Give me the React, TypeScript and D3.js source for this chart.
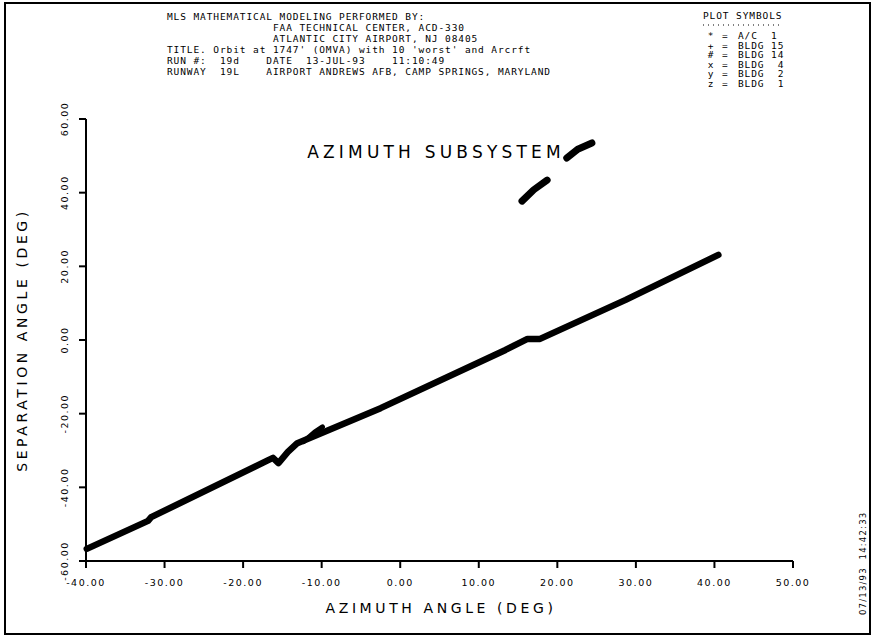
import React from "react";
import * as d3 from "d3";

// ---- data ----
const xTicks = [-40, -30, -20, -10, 0, 10, 20, 30, 40, 50];
const yTicks = [-60, -40, -20, 0, 20, 40, 60];

// A/C 1 main trace: [azimuth, separation]
const mainTrace: [number, number][] = [
  [-39.9, -56.7],
  [-32.1, -49.1],
  [-31.7, -48.1],
  [-16.8, -32.6],
  [-16.2, -32.0],
  [-15.5, -33.4],
  [-14.3, -30.4],
  [-13.1, -28.0],
  [-2.5, -18.5],
  [13.4, -2.7],
  [16.2, 0.3],
  [17.8, 0.3],
  [28.7, 10.9],
  [40.5, 23.1],
];
const spurTrace: [number, number][] = [
  [-12.3, -27.6],
  [-10.9, -25.0],
  [-9.9, -23.6],
];
const blobA: [number, number][] = [
  [15.5, 37.7],
  [17.0, 40.8],
  [18.7, 43.4],
];
const blobB: [number, number][] = [
  [21.2, 49.4],
  [22.6, 51.8],
  [24.4, 53.5],
];

const headerLines = [
  "MLS MATHEMATICAL MODELING PERFORMED BY:",
  "                FAA TECHNICAL CENTER, ACD-330",
  "                ATLANTIC CITY AIRPORT, NJ 08405",
  "TITLE. Orbit at 1747' (OMVA) with 10 'worst' and Arcrft",
  "RUN #:  19d    DATE  13-JUL-93    11:10:49",
  "RUNWAY  19L    AIRPORT ANDREWS AFB, CAMP SPRINGS, MARYLAND",
];

const symbolChars = ["*", "+", "#", "x", "y", "z"];
const symbolNames = ["A/C  1", "BLDG 15", "BLDG 14", "BLDG  4", "BLDG  2", "BLDG  1"];

const plotTitle = "AZIMUTH SUBSYSTEM";
const xTitle = "AZIMUTH ANGLE (DEG)";
const yTitle = "SEPARATION ANGLE (DEG)";
const stamp = "07/13/93  14:42:33";

export default function App() {
  const W = 876, H = 642;
  const x = d3.scaleLinear().domain([-40, 50]).range([86, 793]);
  const y = d3.scaleLinear().domain([-60, 60]).range([561, 119]);
  const line = d3
    .line<[number, number]>()
    .x((d) => x(d[0]))
    .y((d) => y(d[1]))
    .curve(d3.curveLinear);
  const font = "'DejaVu Sans', sans-serif";
  const mono = "'DejaVu Sans Mono', monospace";
  const fmt = (v: number) => v.toFixed(2);

  return (
    <svg
      width={W}
      height={H}
      style={{ position: "absolute", left: 0, top: 0, background: "#fff" }}
      fontFamily={font}
    >
      <rect x={0} y={0} width={W} height={H} fill="#fff" />
      {/* frame */}
      <rect x={5} y={3} width={865} height={631} fill="none" stroke="#000" strokeWidth={2} />

      {/* header */}
      <g fontSize={9.5} fontFamily={mono} letterSpacing={0.9} fill="#000">
        {headerLines.map((t, i) => (
          <text key={i} x={167} y={20 + i * 11} xmlSpace="preserve" style={{ whiteSpace: "pre" }}>
            {t}
          </text>
        ))}
      </g>

      {/* plot symbols */}
      <g fontSize={9.5} fontFamily={mono} letterSpacing={0.9} fill="#000">
        <text x={703} y={19}>PLOT SYMBOLS</text>
        <line x1={703} x2={783} y1={25} y2={25} stroke="#000" strokeWidth={1} strokeDasharray="1 4" />
        {symbolChars.map((s, i) => (
          <g key={i}>
            <text x={711} y={39 + i * 9.6} textAnchor="middle">{s}</text>
            <text x={722} y={39 + i * 9.6}>=</text>
            <text x={738} y={39 + i * 9.6} xmlSpace="preserve" style={{ whiteSpace: "pre" }}>{symbolNames[i]}</text>
          </g>
        ))}
      </g>

      {/* axes */}
      <g stroke="#000" strokeWidth={2}>
        <line x1={x(-40)} x2={x(-40)} y1={y(60)} y2={y(-60) + 4} />
        <line x1={x(-40)} x2={x(50)} y1={y(-60)} y2={y(-60)} />
        {yTicks.map((v) => (
          <line key={"yt" + v} x1={x(-40) - 7} x2={x(-40)} y1={y(v)} y2={y(v)} />
        ))}
        {xTicks.map((v) => (
          <line key={"xt" + v} x1={x(v)} x2={x(v)} y1={y(-60)} y2={y(-60) + 7} />
        ))}
      </g>

      {/* tick labels */}
      <g fontSize={9.5} letterSpacing={1.5} fill="#000">
        {xTicks.map((v) => (
          <text key={"xl" + v} x={x(v)} y={y(-60) + 25} textAnchor="middle">
            {fmt(v)}
          </text>
        ))}
        {yTicks.map((v) => (
          <text
            key={"yl" + v}
            transform={`translate(${x(-40) - 18},${y(v)}) rotate(-90)`}
            textAnchor="middle"
          >
            {fmt(v)}
          </text>
        ))}
      </g>

      {/* titles */}
      <text x={436} y={158} fontSize={17} letterSpacing={4.2} textAnchor="middle" fill="#000">
        {plotTitle}
      </text>
      <text x={441} y={613} fontSize={14} letterSpacing={3.6} textAnchor="middle" fill="#000">
        {xTitle}
      </text>
      <text
        transform={`translate(27,340) rotate(-90)`}
        fontSize={14}
        letterSpacing={3.6}
        textAnchor="middle"
        fill="#000"
      >
        {yTitle}
      </text>
      <text
        transform={`translate(866,615) rotate(-90)`}
        fontSize={8.5}
        letterSpacing={1.2}
        fill="#000"
        xmlSpace="preserve"
        style={{ whiteSpace: "pre" }}
      >
        {stamp}
      </text>

      {/* traces */}
      <g fill="none" stroke="#000" strokeLinecap="round" strokeLinejoin="round">
        <path d={line(mainTrace) || ""} strokeWidth={6.5} />
        <path d={line(spurTrace) || ""} strokeWidth={5} />
        <path d={line(blobA) || ""} strokeWidth={7} />
        <path d={line(blobB) || ""} strokeWidth={7} />
      </g>
    </svg>
  );
}
